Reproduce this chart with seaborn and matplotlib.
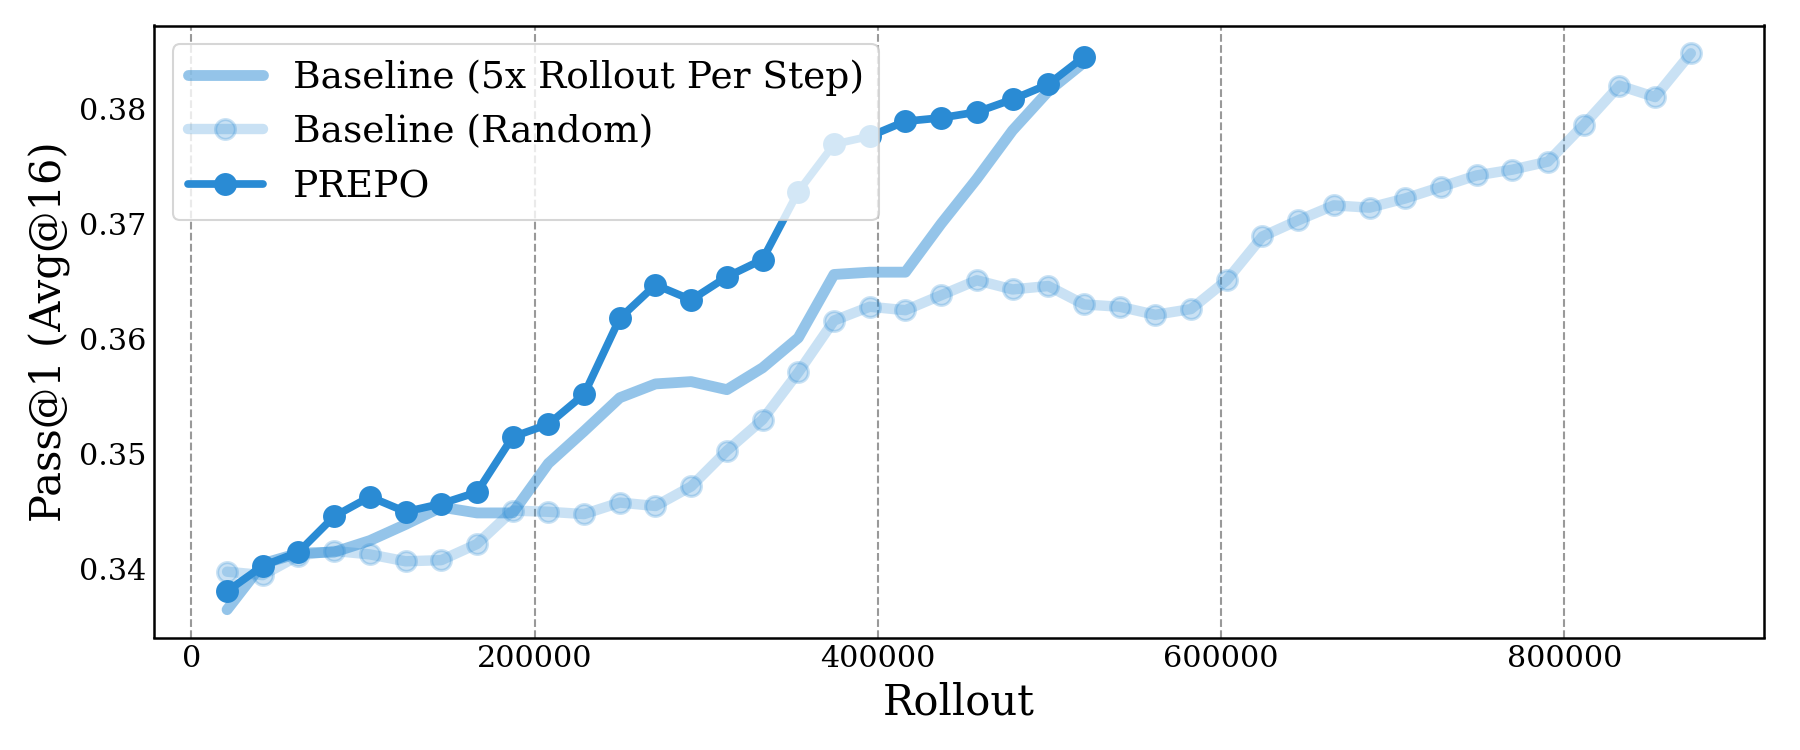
#!/usr/bin/env python3
"""
Pass@1 vs rollout budget: PREPO against two baselines
"""

import pandas as pd
import matplotlib.pyplot as plt
import seaborn as sns

# Rollout counts at each evaluation point
rollout = [20800, 41600, 62400, 83200, 104000, 124800, 145600, 166400, 187200, 208000,
           228800, 249600, 270400, 291200, 312000, 332800, 353600, 374400, 395200, 416000,
           436800, 457600, 478400, 499200, 520000, 540800, 561600, 582400, 603200, 624000,
           644800, 665600, 686400, 707200, 728000, 748800, 769600, 790400, 811200, 832000,
           852800, 873600]

# Baseline (5x Rollout Per Step), first 25 points
baseline_5x = [0.3365, 0.3405, 0.3414, 0.3415, 0.3425, 0.3439, 0.3454, 0.3449, 0.3449, 0.3492,
               0.3520, 0.3549, 0.3561, 0.3563, 0.3556, 0.3575, 0.3601, 0.3656, 0.3658, 0.3658,
               0.3700, 0.3739, 0.3781, 0.3815, 0.3840]

# Baseline (Random), all 42 points
baseline_random = [0.3398, 0.3395, 0.3412, 0.3416, 0.3413, 0.3407, 0.3408, 0.3422, 0.3451, 0.3450,
                   0.3448, 0.3458, 0.3455, 0.3472, 0.3503, 0.3530, 0.3571, 0.3616, 0.3628, 0.3625,
                   0.3638, 0.3651, 0.3643, 0.3646, 0.3630, 0.3628, 0.3621, 0.3626, 0.3651, 0.3689,
                   0.3703, 0.3716, 0.3714, 0.3722, 0.3732, 0.3742, 0.3747, 0.3754, 0.3786, 0.3820,
                   0.3810, 0.3848]

# PREPO, first 25 points
prepo = [0.3381, 0.3403, 0.3415, 0.3446, 0.3463, 0.3450, 0.3457, 0.3467, 0.3515, 0.3526,
         0.3552, 0.3618, 0.3647, 0.3634, 0.3654, 0.3669, 0.3728, 0.3769, 0.3776, 0.3789,
         0.3792, 0.3797, 0.3808, 0.3821, 0.3845]

yticks = [0.34, 0.35, 0.36, 0.37, 0.38]
xticks = [0, 200000, 400000, 600000, 800000]

BLUE = '#2a8bd4'

sns.set_style('white')
plt.rcParams['font.family'] = ['DejaVu Serif']
plt.rcParams['text.color'] = 'black'
plt.rcParams['axes.labelcolor'] = 'black'
plt.rcParams['xtick.color'] = 'black'
plt.rcParams['ytick.color'] = 'black'


def main():
    fig, ax = plt.subplots(figsize=(12, 5), dpi=150)
    fig.subplots_adjust(left=0.0855, right=0.98, top=0.966, bottom=0.15)

    df_5x = pd.DataFrame({'Rollout': rollout[:len(baseline_5x)], 'Pass': baseline_5x})
    df_rand = pd.DataFrame({'Rollout': rollout[:len(baseline_random)], 'Pass': baseline_random})
    df_prepo = pd.DataFrame({'Rollout': rollout[:len(prepo)], 'Pass': prepo})

    sns.lineplot(data=df_5x, x='Rollout', y='Pass', ax=ax, color=BLUE, alpha=0.5,
                 linewidth=5.2, label='Baseline (5x Rollout Per Step)')
    sns.lineplot(data=df_rand, x='Rollout', y='Pass', ax=ax, color=BLUE, alpha=0.25,
                 linewidth=5, marker='o', markersize=9.5, markeredgewidth=1.5,
                 markeredgecolor=BLUE, label='Baseline (Random)')
    sns.lineplot(data=df_prepo, x='Rollout', y='Pass', ax=ax, color=BLUE, alpha=1.0,
                 linewidth=3.7, marker='o', markersize=11, markeredgewidth=0,
                 label='PREPO')

    ax.set_xticks(xticks)
    ax.set_yticks(yticks)
    ax.ticklabel_format(axis='x', style='plain')
    ax.tick_params(labelsize=14.5, length=0)
    ax.grid(axis='x', linestyle='--', color='gray', alpha=0.8, linewidth=1)
    ax.grid(axis='y', visible=False)

    for spine in ax.spines.values():
        spine.set_color('black')
        spine.set_linewidth(1.2)

    ax.set_xlabel('Rollout', fontsize=20)
    ax.set_ylabel('Pass@1 (Avg@16)', fontsize=20)
    ax.legend(loc='upper left', fontsize=18, framealpha=0.8)

    fig.savefig('out.png', dpi=150)
    print("Created: out.png")


if __name__ == "__main__":
    main()
